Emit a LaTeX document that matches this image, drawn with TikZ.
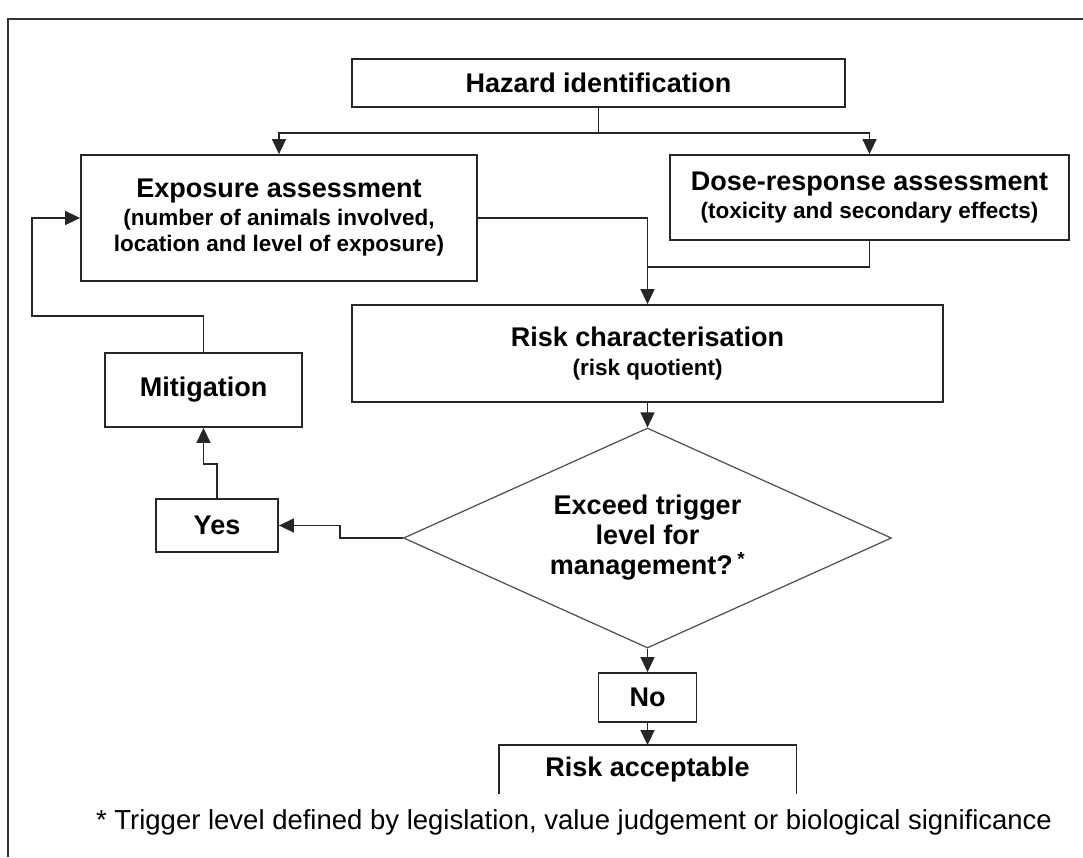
\documentclass[tikz,border=0pt]{standalone}
\usepackage{fontspec}
\setmainfont{Liberation Sans}
\usetikzlibrary{arrows.meta,shapes.geometric}
\newcommand\subline[1]{{\fontsize{22.5}{27}\selectfont #1}}
\begin{document}
\begin{tikzpicture}[x=1pt,y=-1pt,
  box/.style={draw=black!85, line width=1.8pt, inner sep=0pt, align=center, font=\fontsize{27}{30}\selectfont\bfseries},
  arr/.style={draw=black!85, line width=1.5pt, -{Triangle[length=15pt,width=14pt]}},
  link/.style={draw=black!85, line width=1.5pt}]
\useasboundingbox (0,0) rectangle (1083,857);
\draw[line width=1.5pt, black!80] (8,857) -- (8,19) -- (1083,19);
\node[box, minimum width=493pt, minimum height=48pt] (hazard) at (598.5,83) {Hazard identification};
\node[box, minimum width=396pt, minimum height=126pt] (expo) at (279,218) {Exposure assessment\\[-2pt]\subline{(number of animals involved,}\\[-4pt]\subline{location and level of exposure)}};
\node[box, minimum width=399pt, minimum height=85pt] (dose) at (869.5,197.5) {Dose-response assessment\\[-2pt]\subline{(toxicity and secondary effects)}};
\node[box, minimum width=591pt, minimum height=97pt] (risk) at (647.5,353.5) {Risk characterisation\\[-1pt]\subline{(risk quotient)}};
\node[box, minimum width=197pt, minimum height=74pt] (mitig) at (203.5,390) {Mitigation};
\node[box, minimum width=122pt, minimum height=53pt] (yes) at (217,525.5) {Yes};
\node[diamond, draw=black!70, line width=1.2pt, inner sep=0pt, minimum width=488pt, minimum height=220pt] (dia) at (647.5,538) {};
\node[box, draw=none] (ask) at (dia.center) {Exceed trigger\\level for\\management?\,\textsuperscript{*}};
\node[box, minimum width=98pt, minimum height=49pt] (no) at (647.5,697.5) {No};
\node[box, draw=none, minimum width=296pt, minimum height=47pt] (accept) at (647.5,769.5) {Risk acceptable};
\draw[line width=1.8pt, black!85] (accept.south west) -- (accept.north west) -- (accept.north east) -- (accept.south east);
\node[font=\fontsize{27.5}{30}\selectfont] (note) at (574,822) {* Trigger level defined by legislation, value judgement or biological significance};
\coordinate (split) at (598.5,133);
\coordinate (join) at (647.5,267);
\coordinate (back) at (32,316);
\draw[link] (hazard.south) -- (split);
\draw[arr] (split) -| (expo.north);
\draw[arr] (split) -| (dose.north);
\draw[arr] (expo.east) -| (risk.north);
\draw[link] (dose.south) |- (join);
\foreach \a/\b in {risk/dia, dia/no, no/accept} \draw[arr] (\a.south) -- (\b.north);
\draw[arr] (dia.west) -- ++(-63,0) |- (yes.east);
\draw[arr] (yes.north) -- ++(0,-34) -| (mitig.south);
\draw[arr] (mitig.north) |- (back) |- (expo.west);
\end{tikzpicture}
\end{document}
